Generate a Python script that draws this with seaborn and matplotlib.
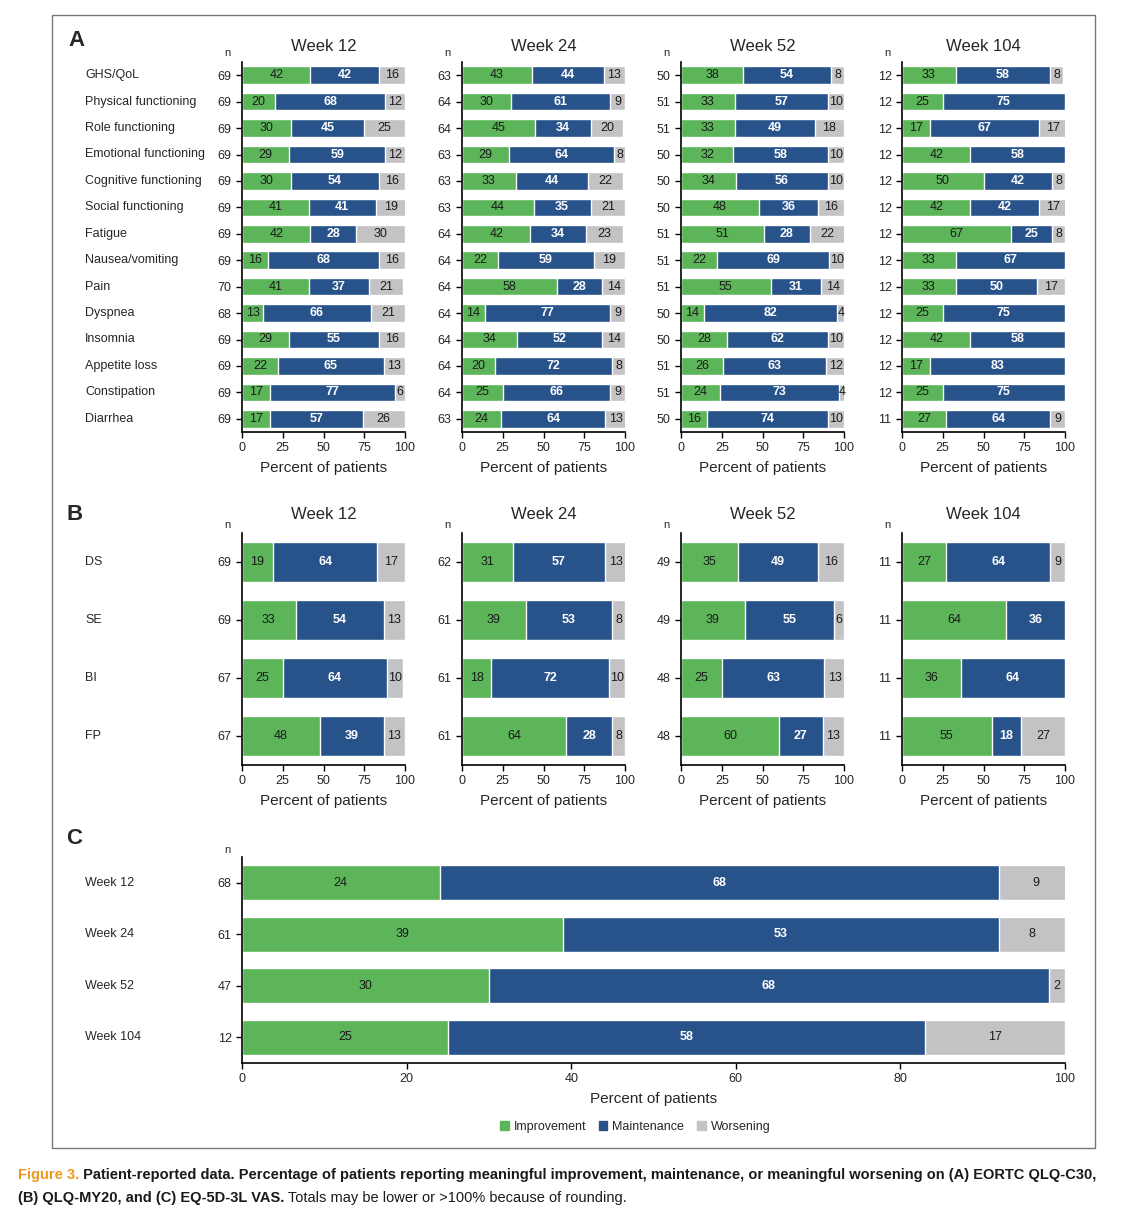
import matplotlib
matplotlib.use("Agg")
import matplotlib.pyplot as plt
import numpy as np
import pandas as pd
import seaborn as sns
from matplotlib.patches import Patch, Rectangle
from matplotlib.transforms import blended_transform_factory

# ── data ──────────────────────────────────────────────────────────────────────
weeks = ["Week 12", "Week 24", "Week 52", "Week 104"]

qlq_items = ["GHS/QoL", "Physical functioning", "Role functioning", "Emotional functioning",
             "Cognitive functioning", "Social functioning", "Fatigue", "Nausea/vomiting",
             "Pain", "Dyspnea", "Insomnia", "Appetite loss", "Constipation", "Diarrhea"]
qlq_n = [
    [69, 69, 69, 69, 69, 69, 69, 69, 70, 68, 69, 69, 69, 69],
    [63, 64, 64, 63, 63, 63, 64, 64, 64, 64, 64, 64, 64, 63],
    [50, 51, 51, 50, 50, 50, 51, 51, 51, 50, 50, 51, 51, 50],
    [12, 12, 12, 12, 12, 12, 12, 12, 12, 12, 12, 12, 12, 11],
]
qlq_imp = [
    [42, 20, 30, 29, 30, 41, 42, 16, 41, 13, 29, 22, 17, 17],
    [43, 30, 45, 29, 33, 44, 42, 22, 58, 14, 34, 20, 25, 24],
    [38, 33, 33, 32, 34, 48, 51, 22, 55, 14, 28, 26, 24, 16],
    [33, 25, 17, 42, 50, 42, 67, 33, 33, 25, 42, 17, 25, 27],
]
qlq_main = [
    [42, 68, 45, 59, 54, 41, 28, 68, 37, 66, 55, 65, 77, 57],
    [44, 61, 34, 64, 44, 35, 34, 59, 28, 77, 52, 72, 66, 64],
    [54, 57, 49, 58, 56, 36, 28, 69, 31, 82, 62, 63, 73, 74],
    [58, 75, 67, 58, 42, 42, 25, 67, 50, 75, 58, 83, 75, 64],
]
qlq_wors = [
    [16, 12, 25, 12, 16, 19, 30, 16, 21, 21, 16, 13, 6, 26],
    [13, 9, 20, 8, 22, 21, 23, 19, 14, 9, 14, 8, 9, 13],
    [8, 10, 18, 10, 10, 16, 22, 10, 14, 4, 10, 12, 4, 10],
    [8, 0, 17, 0, 8, 17, 8, 0, 17, 0, 0, 0, 0, 9],
]

my_items = ["DS", "SE", "BI", "FP"]
my_n = [[69, 69, 67, 67], [62, 61, 61, 61], [49, 49, 48, 48], [11, 11, 11, 11]]
my_imp = [[19, 33, 25, 48], [31, 39, 18, 64], [35, 39, 25, 60], [27, 64, 36, 55]]
my_main = [[64, 54, 64, 39], [57, 53, 72, 28], [49, 55, 63, 27], [64, 36, 64, 18]]
my_wors = [[17, 13, 10, 13], [13, 8, 10, 8], [16, 6, 13, 13], [9, 0, 0, 27]]

vas_items = ["Week 12", "Week 24", "Week 52", "Week 104"]
vas_n = [68, 61, 47, 12]
vas_imp = [24, 39, 30, 25]
vas_main = [68, 53, 68, 58]
vas_wors = [9, 8, 2, 17]

GREEN, BLUE, GRAY = "#5db55a", "#27528a", "#c3c3c6"
W, H = 1144, 1218

sns.set_style("white")
plt.rcParams["font.family"] = ["Liberation Sans", "DejaVu Sans"]
NARROW = ["Liberation Sans Narrow", "Liberation Sans", "DejaVu Sans"]

fig = plt.figure(figsize=(W / 100, H / 100), dpi=100)


def px_axes(x0, y0, x1, y1):
    return fig.add_axes([x0 / W, 1 - y1 / H, (x1 - x0) / W, (y1 - y0) / H])


def stacked(ax, items, n, imp, main, wors, xticks, bh, fs):
    df = pd.DataFrame({"item": items, "imp": imp, "main": main, "wors": wors})
    df["c1"] = df["imp"]
    df["c2"] = df["imp"] + df["main"]
    df["c3"] = df["c2"] + df["wors"]
    for col, color in [("c3", GRAY), ("c2", BLUE), ("c1", GREEN)]:
        sns.barplot(data=df, x=col, y="item", orient="h", color=color,
                    width=bh, saturation=1, ax=ax)
    for i, r in df.iterrows():
        for val, left, tc, fw in [(r.imp, 0, "#1a1a1a", "normal"),
                                  (r.main, r.c1, "white", "bold"),
                                  (r.wors, r.c2, "#1a1a1a", "normal")]:
            if val > 0:
                ax.text(left + val / 2, i, str(val), ha="center", va="center",
                        color=tc, fontsize=fs, fontweight=fw)
    ax.set_xlim(0, 100)
    ax.set_ylim(len(items) - 0.5, -0.5)
    ax.set_xticks(xticks)
    ax.set_yticks(range(len(items)))
    ax.set_yticklabels([str(v) for v in n], fontsize=9)
    ax.tick_params(axis="both", length=4, width=1, direction="out", color="black",
                   labelsize=9, left=True, bottom=True)
    ax.set_xlabel("Percent of patients", fontsize=11, family=NARROW, labelpad=5)
    ax.set_ylabel("")
    for s in ["top", "right"]:
        ax.spines[s].set_visible(False)
    for s in ["left", "bottom"]:
        ax.spines[s].set_color("black")
        ax.spines[s].set_linewidth(1.2)


def item_names(ax, items, fs=9):
    tr = blended_transform_factory(fig.transFigure, ax.transData)
    for i, name in enumerate(items):
        ax.text(85 / W, i, name, transform=tr, ha="left", va="center", fontsize=fs)


def n_label(ax, xpx):
    ax.text(xpx / W, 1.012, "n", transform=blended_transform_factory(fig.transFigure, ax.transAxes),
            ha="center", va="bottom", fontsize=8)


xs = [(242, 405), (462, 625), (681, 844), (902, 1065)]

# Panel A
for k, (x0, x1) in enumerate(xs):
    ax = px_axes(x0, 62, x1, 432)
    stacked(ax, qlq_items, qlq_n[k], qlq_imp[k], qlq_main[k], qlq_wors[k],
            [0, 25, 50, 75, 100], 0.66, 9)
    ax.set_title(weeks[k], fontsize=12, pad=8)
    n_label(ax, x0 - 15)
    if k == 0:
        item_names(ax, qlq_items)

# Panel B
for k, (x0, x1) in enumerate(xs):
    ax = px_axes(x0, 533, x1, 765)
    stacked(ax, my_items, my_n[k], my_imp[k], my_main[k], my_wors[k],
            [0, 25, 50, 75, 100], 0.7, 9)
    ax.set_title(weeks[k], fontsize=12, pad=10)
    n_label(ax, x0 - 15)
    if k == 0:
        item_names(ax, my_items)

# Panel C
ax = px_axes(242, 857, 1065, 1063)
stacked(ax, vas_items, vas_n, vas_imp, vas_main, vas_wors,
        [0, 20, 40, 60, 80, 100], 0.68, 9)
n_label(ax, 227)
item_names(ax, vas_items)

fig.legend(handles=[Patch(color=GREEN, label="Improvement"),
                    Patch(color=BLUE, label="Maintenance"),
                    Patch(color=GRAY, label="Worsening")],
           loc="center", bbox_to_anchor=(635 / W, 1 - 1127 / H), ncol=3, frameon=False,
           fontsize=9, handlelength=0.7, handleheight=0.7, handletextpad=0.4, columnspacing=1.0)

for lab, xp, yp in [("A", 68, 40), ("B", 66, 515), ("C", 66, 838)]:
    fig.text(xp / W, 1 - yp / H, lab, fontsize=16, fontweight="bold", ha="left", va="center")

fig.patches.append(Rectangle((52 / W, 1 - 1148 / H), (1095 - 52) / W, (1148 - 15) / H,
                             transform=fig.transFigure, fill=False, edgecolor="#777777", lw=1))

# caption with mixed styles
renderer = fig.canvas.get_renderer()


def runs(parts, xpx, ypx):
    x = xpx / W
    for txt, color, weight in parts:
        t = fig.text(x, 1 - ypx / H, txt, color=color, fontweight=weight, fontsize=10.5,
                     ha="left", va="center")
        bb = t.get_window_extent(renderer=renderer)
        x += bb.width / W


runs([("Figure 3.", "#f0961e", "bold"),
      (" Patient-reported data. Percentage of patients reporting meaningful improvement, "
       "maintenance, or meaningful worsening on (A) EORTC QLQ-C30,", "#1a1a1a", "bold")], 18, 1175)
runs([("(B) QLQ-MY20, and (C) EQ-5D-3L VAS.", "#1a1a1a", "bold"),
      (" Totals may be lower or >100% because of rounding.", "#1a1a1a", "normal")], 18, 1198)

fig.savefig("out.png", dpi=100)
